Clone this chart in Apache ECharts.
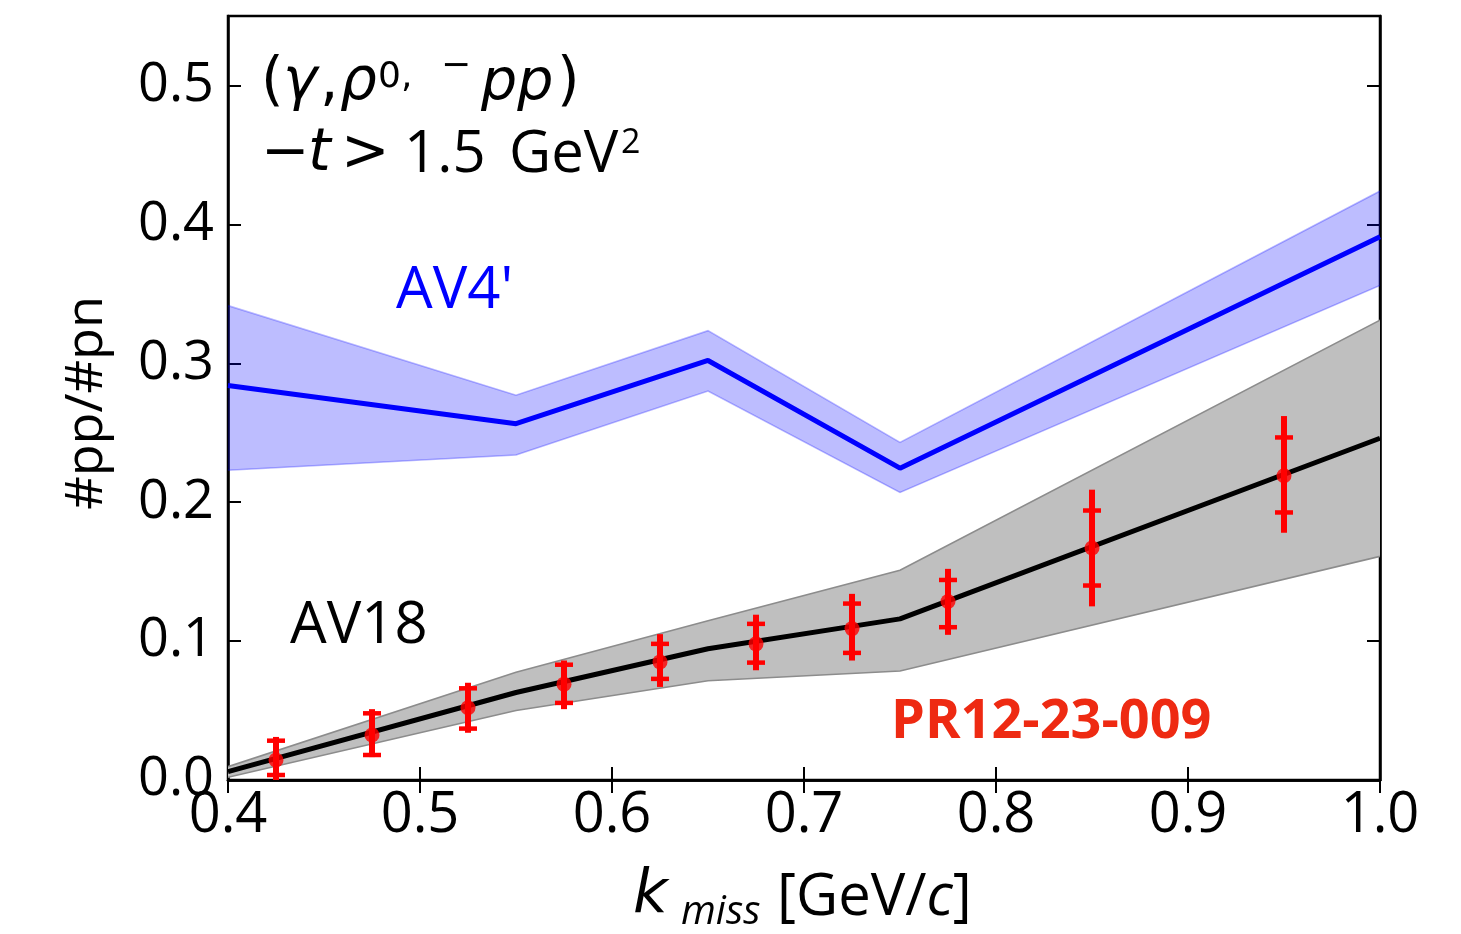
<!DOCTYPE html>
<html>
<head>
<meta charset="utf-8">
<script src="https://cdn.jsdelivr.net/npm/echarts@6/dist/echarts.min.js"></script>
<style>
html,body{margin:0;padding:0;background:#fff;}
#chart{width:1461px;height:934px;}
</style>
</head>
<body>
<div id="chart"></div>
<script>
// ---- data ----
const xTicks = [0.4, 0.5, 0.6, 0.7, 0.8, 0.9, 1.0];
const yTicks = [0.0, 0.1, 0.2, 0.3, 0.4, 0.5];

// AV4' calculation (blue)
const av4X  = [0.40, 0.55, 0.65, 0.75, 1.00];
const av4Y  = [0.284, 0.2565, 0.302, 0.2245, 0.391];
const av4Hi = [0.3415, 0.277, 0.3235, 0.243, 0.424];
const av4Lo = [0.223, 0.234, 0.280, 0.207, 0.356];

// AV18 calculation (black / grey band)
const av18X  = [0.40, 0.55, 0.65, 0.75, 1.00];
const av18Y  = [0.006, 0.063, 0.0945, 0.116, 0.246];
const av18Hi = [0.0096, 0.0776, 0.1146, 0.151, 0.331];
const av18Lo = [0.002, 0.050, 0.0715, 0.0785, 0.161];

// PR12-23-009 projected points (red)
const ptX      = [0.425, 0.475, 0.525, 0.575, 0.625, 0.675, 0.725, 0.775, 0.85, 0.95];
const ptY      = [0.0144, 0.0324, 0.052, 0.069, 0.085, 0.098, 0.109, 0.1285, 0.167, 0.219];
const ptTotLo  = [0.000, 0.0165, 0.034, 0.051, 0.067, 0.079, 0.086, 0.1045, 0.125, 0.178];
const ptTotHi  = [0.031, 0.051, 0.070, 0.086, 0.105, 0.119, 0.134, 0.152, 0.209, 0.262];
const ptStatLo = [0.0036, 0.018, 0.037, 0.0555, 0.0728, 0.0845, 0.0915, 0.110, 0.140, 0.1926];
const ptStatHi = [0.0283, 0.048, 0.066, 0.083, 0.098, 0.1124, 0.127, 0.144, 0.194, 0.2466];

// ---- chart ----
const FONT = '"Open Sans", "DejaVu Sans", sans-serif';
const MATH = '"DejaVu Sans", sans-serif';
const chart = echarts.init(document.getElementById('chart'), null, {renderer: 'canvas'});

function bandRender(xs, hi, lo, fill, stroke) {
  return function (params, api) {
    if (params.dataIndex !== 0) return;
    const up = xs.map((x, i) => api.coord([x, hi[i]]));
    const dn = xs.map((x, i) => api.coord([x, lo[i]]));
    const poly = up.concat(dn.slice().reverse());
    return {
      type: 'group',
      children: [
        {type: 'polygon', shape: {points: poly}, style: {fill: fill, stroke: null}},
        {type: 'polyline', shape: {points: up}, style: {fill: null, stroke: stroke, lineWidth: 1.6}},
        {type: 'polyline', shape: {points: dn}, style: {fill: null, stroke: stroke, lineWidth: 1.6}}
      ]
    };
  };
}

function errRender(params, api) {
  const x = api.value(0);
  const tLo = api.coord([x, api.value(2)]);
  const tHi = api.coord([x, api.value(3)]);
  const sLo = api.coord([x, api.value(4)]);
  const sHi = api.coord([x, api.value(5)]);
  const w = 9;
  const red = '#ff0000';
  return {
    type: 'group',
    children: [
      {type: 'line', shape: {x1: tHi[0], y1: tHi[1], x2: tLo[0], y2: tLo[1]}, style: {stroke: red, lineWidth: 6}},
      {type: 'line', shape: {x1: sHi[0] - w, y1: sHi[1], x2: sHi[0] + w, y2: sHi[1]}, style: {stroke: red, lineWidth: 4.5}},
      {type: 'line', shape: {x1: sLo[0] - w, y1: sLo[1], x2: sLo[0] + w, y2: sLo[1]}, style: {stroke: red, lineWidth: 4.5}}
    ]
  };
}

const errData = ptX.map((x, i) => [x, ptY[i], ptTotLo[i], ptTotHi[i], ptStatLo[i], ptStatHi[i]]);
const ptData = ptX.map((x, i) => [x, ptY[i]]);
const av18Data = av18X.map((x, i) => [x, av18Y[i]]);
const av4Data = av4X.map((x, i) => [x, av4Y[i]]);

const yFmt = v => {
  const k = v * 10;
  return Math.abs(k - Math.round(k)) < 1e-6 ? v.toFixed(1) : '';
};

const tickStyle = {show: true, inside: true, length: 13, lineStyle: {color: '#000', width: 2}};
const lineStyle = {show: true, lineStyle: {color: '#000', width: 2.5}};

function T(text, x, y, size, opts) {
  opts = opts || {};
  const st = {
    text: text,
    fontFamily: opts.family || FONT,
    fontSize: size,
    fontStyle: opts.italic ? 'italic' : 'normal',
    fontWeight: opts.bold ? 'bold' : 'normal',
    fill: opts.color || '#000',
    align: opts.align || 'left',
    verticalAlign: 'middle'
  };
  if (opts.rich) st.rich = opts.rich;
  return {type: 'text', x: x, y: y, z: 100, rotation: opts.rotation || 0, style: st};
}

const option = {
  animation: false,
  backgroundColor: '#fff',
  grid: {left: 228, right: 81, top: 16, bottom: 154, show: true, borderColor: '#000', borderWidth: 2.5, backgroundColor: 'transparent'},
  xAxis: [
    {type: 'value', position: 'bottom', min: 0.4, max: 1.0, interval: 0.1,
     axisLine: lineStyle, axisTick: tickStyle, splitLine: {show: false},
     axisLabel: {fontFamily: FONT, fontSize: 56, color: '#000', margin: 8, formatter: v => v.toFixed(1)}},
    {type: 'value', position: 'top', min: 0.4, max: 1.0, interval: 0.1,
     axisLine: lineStyle, axisTick: tickStyle, splitLine: {show: false}, axisLabel: {show: false}}
  ],
  yAxis: [
    {type: 'value', position: 'left', min: 0, max: 0.55, interval: 0.1,
     axisLine: lineStyle, axisTick: tickStyle, splitLine: {show: false},
     axisLabel: {fontFamily: FONT, fontSize: 54, color: '#000', margin: 14, formatter: yFmt}},
    {type: 'value', position: 'right', min: 0, max: 0.55, interval: 0.1,
     axisLine: lineStyle, axisTick: tickStyle, splitLine: {show: false}, axisLabel: {show: false}}
  ],
  series: [
    {type: 'custom', name: 'AV18 band', clip: true, z: 1, data: [[av18X[0], av18Y[0]]], encode: {x: 0, y: 1},
     renderItem: bandRender(av18X, av18Hi, av18Lo, '#bfbfbf', '#8c8c8c'), silent: true},
    {type: 'custom', name: "AV4' band", clip: true, z: 1, data: [[av4X[0], av4Y[0]]], encode: {x: 0, y: 1},
     renderItem: bandRender(av4X, av4Hi, av4Lo, 'rgba(0,0,255,0.26)', 'rgba(0,0,255,0.28)'), silent: true},
    {type: 'line', name: 'AV18', z: 3, data: av18Data, showSymbol: false, symbol: 'none',
     lineStyle: {color: '#000', width: 5}, clip: true},
    {type: 'line', name: "AV4'", z: 3, data: av4Data, showSymbol: false, symbol: 'none',
     lineStyle: {color: '#0000ff', width: 5}, clip: true},
    {type: 'custom', name: 'errors', z: 4, clip: true, data: errData, encode: {x: 0, y: 1}, renderItem: errRender},
    {type: 'scatter', name: 'PR12-23-009', z: 5, data: ptData, symbol: 'circle', symbolSize: 15,
     itemStyle: {color: '#ff0000'}}
  ],
  graphic: [
    // line 1: (γ, ρ^{0,} ^{−}pp)
    T('(', 261, 84, 58, {family: MATH}),
    T('γ', 283, 84, 58, {italic: true, family: MATH}),
    T(',', 320, 84, 58, {family: MATH}),
    T('ρ', 340, 84, 58, {italic: true, family: MATH}),
    T('0,', 378, 78, 36, {family: MATH}),
    T('−', 441, 67, 36, {family: MATH}),
    T('pp', 481, 84, 57, {italic: true, family: MATH}),
    T(')', 557, 84, 58, {family: MATH}),
    // line 2: −t > 1.5 GeV²
    T('−', 261, 155, 58, {family: MATH}),
    T('t', 308, 155, 58, {italic: true, family: MATH}),
    T('>', 341, 155, 58, {family: MATH}),
    T('1.5', 404, 155, 58),
    T('GeV', 509, 155, 58),
    T('2', 621, 143, 34),
    // model / projection labels
    T("AV4'", 396, 291, 58, {color: '#0000ff'}),
    T('AV18', 290, 626, 58),
    T('PR12-23-009', 891, 723, 54, {bold: true, color: '#ee2a12'}),
    // axis titles
    T('#pp/#pn', 87, 403, 52, {rotation: Math.PI / 2, align: 'center'}),
    T('k', 633, 896, 60, {italic: true, family: MATH}),
    T('miss', 681, 913, 40, {italic: true}),
    T('[GeV/{i|c}]', 777, 898, 58, {rich: {i: {fontFamily: FONT, fontSize: 58, fontStyle: 'italic', fill: '#000'}}})
  ]
};
chart.setOption(option);
</script>
</body>
</html>
